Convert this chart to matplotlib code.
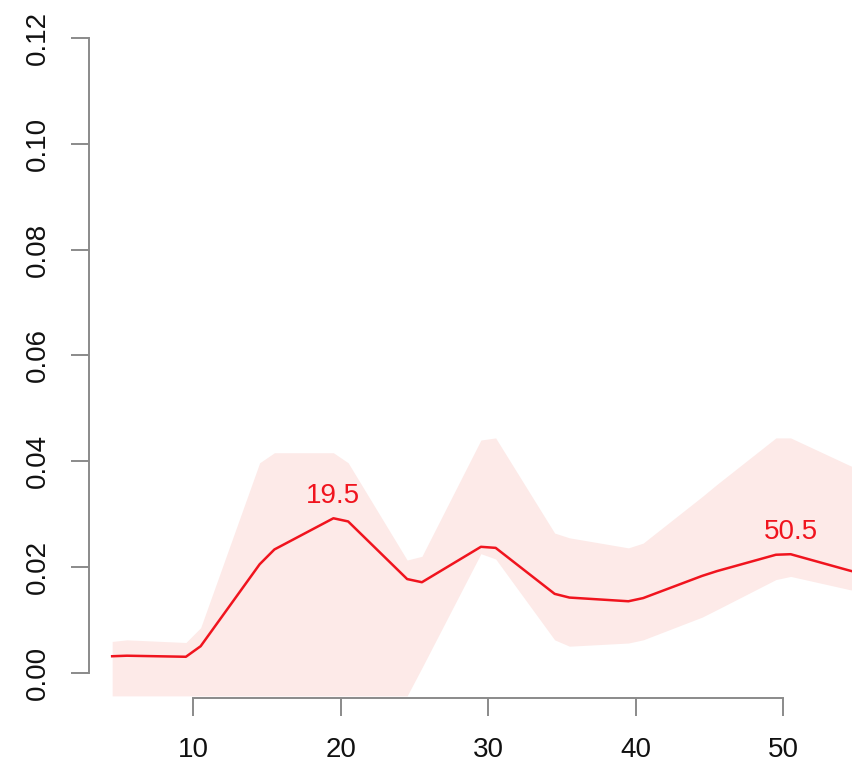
import matplotlib
matplotlib.use("Agg")
import matplotlib.pyplot as plt

plt.rcParams['font.family'] = ['Liberation Sans', 'DejaVu Sans']

# positions along the x axis
x = [4.5, 5.5, 9.5, 10.5, 14.5, 15.5, 19.5, 20.5, 24.5, 25.5, 29.5, 30.5,
     34.5, 35.5, 39.5, 40.5, 44.5, 45.5, 49.5, 50.5, 54.5, 55.5]

# estimate
mean = [0.0031, 0.0032, 0.0030, 0.0050, 0.0205, 0.0233, 0.0292, 0.0286,
        0.0177, 0.0171, 0.0238, 0.0236, 0.0149, 0.0142, 0.0135, 0.0141,
        0.0183, 0.0192, 0.0223, 0.0224, 0.0193, 0.0186]

# confidence band
upper = [0.0059, 0.0062, 0.0057, 0.0085, 0.0397, 0.0416, 0.0416, 0.0397,
         0.0213, 0.0220, 0.0440, 0.0444, 0.0264, 0.0255, 0.0236, 0.0245,
         0.0333, 0.0356, 0.0444, 0.0444, 0.0392, 0.0380]
lower = [-0.0044, -0.0044, -0.0044, -0.0044, -0.0044, -0.0044, -0.0044, -0.0044,
         -0.0044, 0.0009, 0.0225, 0.0215, 0.0062, 0.0050, 0.0056, 0.0062,
         0.0105, 0.0119, 0.0176, 0.0182, 0.0157, 0.0152]

# labelled peaks
peak_x = [19.5, 50.5]
peak_labels = ["19.5", "50.5"]

x_ticks = [10, 20, 30, 40, 50]
y_ticks = [0.00, 0.02, 0.04, 0.06, 0.08, 0.10, 0.12]
y_tick_labels = ["0.00", "0.02", "0.04", "0.06", "0.08", "0.10", "0.12"]

W, H = 852, 769
fig = plt.figure(figsize=(W / 100, H / 100), dpi=100)
left_px, right_px, top_px, bottom_px = 89.3, 852, 12.9, 698
ax = fig.add_axes([left_px / W, 1 - bottom_px / H,
                   (right_px - left_px) / W, (bottom_px - top_px) / H])

red = '#f0141e'
ax.fill_between(x, lower, upper, color='#fdeae8', linewidth=0)
ax.plot(x, mean, color=red, linewidth=1.8)

for px, lab in zip(peak_x, peak_labels):
    py = mean[x.index(px)]
    ax.annotate(lab, (px, py), xytext=(0, 11.3), textcoords='offset points',
                ha='center', va='baseline', color=red, fontsize=20)

ax.set_xlim(2.95, 54.66)
ax.set_ylim(-0.0048, 0.1248)

axis_col = '#8a8a8a'
for side in ('top', 'right'):
    ax.spines[side].set_visible(False)
for side in ('left', 'bottom'):
    ax.spines[side].set_color(axis_col)
    ax.spines[side].set_linewidth(1.4)
ax.spines['left'].set_bounds(0, 0.12)
ax.spines['bottom'].set_bounds(10, 50)

ax.set_xticks(x_ticks)
ax.set_xticklabels([str(t) for t in x_ticks])
ax.set_yticks(y_ticks)
ax.set_yticklabels(y_tick_labels)
ax.tick_params(axis='both', direction='out', length=13, width=1.4,
               color=axis_col, labelsize=20, labelcolor='#111111')
ax.tick_params(axis='x', pad=15)
ax.tick_params(axis='y', pad=15, labelrotation=90)
for lab in ax.get_yticklabels():
    lab.set_va('center')

fig.savefig('out.png', dpi=100)
